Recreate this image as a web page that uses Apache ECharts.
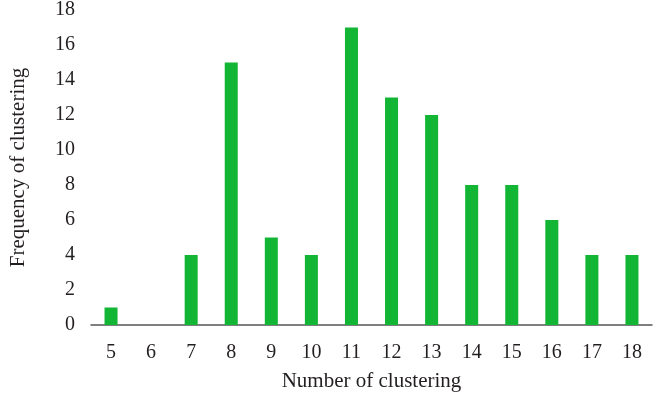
<!DOCTYPE html>
<html>
<head>
<meta charset="utf-8">
<script src="https://cdn.jsdelivr.net/npm/echarts@6/dist/echarts.min.js"></script>
<style>html,body{margin:0;padding:0;background:#fff}#c{width:661px;height:397px}</style>
</head>
<body>
<div id="c"></div>
<script>
const categories = ['5','6','7','8','9','10','11','12','13','14','15','16','17','18'];
const frequency = [1, 0, 4, 15, 5, 4, 17, 13, 12, 8, 8, 6, 4, 4];
const yMin = 0, yMax = 18, yStep = 2;

const font = 'Liberation Serif';
const chart = echarts.init(document.getElementById('c'), null, {renderer: 'canvas'});
chart.setOption({
  animation: false,
  grid: {left: 89, right: 9, top: 9, bottom: 72},
  xAxis: {
    type: 'category',
    data: categories,
    name: 'Number of clustering',
    nameLocation: 'middle',
    nameGap: 46,
    nameTextStyle: {fontFamily: font, fontSize: 21, color: '#231f20'},
    axisLine: {lineStyle: {color: '#555', width: 1.5}},
    axisTick: {show: false},
    axisLabel: {fontFamily: font, fontSize: 20, color: '#231f20', margin: 18}
  },
  yAxis: {
    type: 'value',
    min: yMin, max: yMax, interval: yStep,
    name: 'Frequency of clustering',
    nameLocation: 'middle',
    nameGap: 62,
    nameRotate: 90,
    nameTextStyle: {fontFamily: font, fontSize: 21, color: '#231f20'},
    axisLine: {show: false},
    axisTick: {show: false},
    splitLine: {show: false},
    axisLabel: {fontFamily: font, fontSize: 20, color: '#231f20', margin: 16}
  },
  series: [{
    type: 'bar',
    data: frequency,
    barWidth: 13,
    itemStyle: {color: '#12b534'}
  }]
});
</script>
</body>
</html>
